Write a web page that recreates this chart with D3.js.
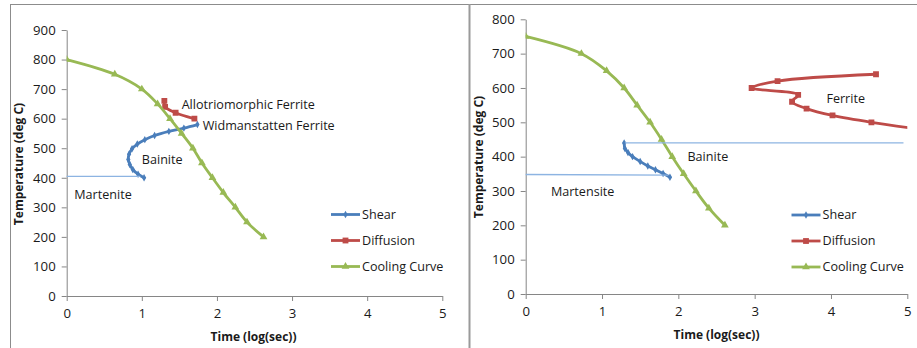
<!DOCTYPE html>
<html>
<head>
<meta charset="utf-8">
<script src="https://cdn.jsdelivr.net/npm/d3@7"></script>
<style>
  html, body { margin: 0; padding: 0; background: #fff; }
  svg { display: block; }
  text { font-family: "Open Sans", "Liberation Sans", sans-serif; fill: #1a1a1a; }
</style>
</head>
<body>
<svg id="chart" width="917" height="348"></svg>
<script>
// ---- shared axis ticks ----
const xTicks = [0, 1, 2, 3, 4, 5];
const leftYTicks = [0, 100, 200, 300, 400, 500, 600, 700, 800, 900];
const rightYTicks = [0, 100, 200, 300, 400, 500, 600, 700, 800];
const legendNames = ["Shear", "Diffusion", "Cooling Curve"];

// ---- left diagram: [log time, temperature] ----
const leftShear = [[1.03, 400], [0.95, 412], [0.88, 428], [0.84, 445], [0.82, 462], [0.83, 480],
  [0.87, 498], [0.94, 514], [1.04, 529], [1.17, 543], [1.36, 557], [1.56, 568], [1.74, 580]];
const leftDiffusion = [[1.3, 660], [1.31, 640], [1.45, 620], [1.7, 600]];
const leftCooling = [[0, 800], [0.64, 750], [1.0, 700], [1.21, 650], [1.375, 600], [1.53, 550],
  [1.68, 500], [1.8, 450], [1.94, 400], [2.085, 350], [2.245, 300], [2.4, 250], [2.62, 200]];
const leftMs = [[0, 405], [0.98, 405]];
const leftNotes = [
  { text: "Allotriomorphic Ferrite", x: 1.53, y: 646 },
  { text: "Widmanstatten Ferrite", x: 1.81, y: 575 },
  { text: "Bainite", x: 1.0, y: 463 },
  { text: "Martenite", x: 0.1, y: 343 }
];

// ---- right diagram ----
const rightShear = [[1.29, 440], [1.3, 424], [1.34, 412], [1.4, 400], [1.5, 386], [1.6, 373],
  [1.7, 362], [1.8, 351], [1.89, 340]];
const rightDiffusion = [[4.59, 640], [3.3, 620], [2.96, 600], [3.57, 580], [3.49, 560],
  [3.68, 540], [4.02, 520], [4.53, 500], [5.5, 470]];
const rightCooling = [[0, 750], [0.73, 700], [1.06, 650], [1.29, 600], [1.46, 550], [1.63, 500],
  [1.78, 450], [1.92, 400], [2.07, 350], [2.23, 300], [2.4, 250], [2.61, 200]];
const rightBs = [[1.3, 440], [4.95, 440]];
const rightMs = [[0, 348], [1.87, 346]];
const rightNotes = [
  { text: "Ferrite", x: 3.94, y: 570 },
  { text: "Bainite", x: 2.12, y: 400 },
  { text: "Martensite", x: 0.33, y: 297 }
];

const colors = { shear: "#4A7EBB", diffusion: "#BE4B48", cooling: "#98B954", thin: "#8DB4E2" };

const svg = d3.select("#chart");

// frame lines around and between the two diagrams
svg.append("line").attr("x1", 10).attr("x2", 917).attr("y1", 4.5).attr("y2", 4.5)
  .attr("stroke", "#8c8c8c").attr("stroke-width", 1);
svg.append("line").attr("x1", 10.5).attr("x2", 10.5).attr("y1", 4).attr("y2", 348)
  .attr("stroke", "#8c8c8c").attr("stroke-width", 1);
svg.append("line").attr("x1", 469.5).attr("x2", 469.5).attr("y1", 4).attr("y2", 348)
  .attr("stroke", "#9a9a9a").attr("stroke-width", 2);

function drawPanel(p) {
  const g = svg.append("g");
  const x = d3.scaleLinear().domain([0, 5]).range([p.left, p.right]);
  const y = d3.scaleLinear().domain([0, p.yMax]).range([p.bottom, p.top]);

  const clipId = "clip" + p.id;
  g.append("clipPath").attr("id", clipId).append("rect")
    .attr("x", p.left).attr("y", p.top - 10).attr("width", p.right - p.left).attr("height", p.bottom - p.top + 10);

  // axes
  const xAxis = g.append("g").attr("transform", `translate(0,${p.bottom})`)
    .call(d3.axisBottom(x).tickValues(xTicks).tickSize(5).tickSizeOuter(0).tickPadding(8).tickFormat(d3.format("d")));
  const yAxis = g.append("g").attr("transform", `translate(${p.left},0)`)
    .call(d3.axisLeft(y).tickValues(p.yTicks).tickSize(5).tickSizeOuter(0).tickPadding(6).tickFormat(d3.format("d")));
  [xAxis, yAxis].forEach(a => {
    a.select(".domain").attr("stroke", "#868686");
    a.selectAll(".tick line").attr("stroke", "#868686");
    a.selectAll(".tick text").attr("font-size", 13.2).attr("font-family", "Open Sans, sans-serif").attr("fill", "#1a1a1a");
  });

  g.append("text").attr("x", (p.left + p.right) / 2 + p.xTitleShift).attr("y", p.bottom + 45)
    .attr("text-anchor", "middle").attr("font-weight", "bold").attr("font-size", 12)
    .text("Time (log(sec))");
  g.append("text").attr("transform", `translate(${p.yTitleX},${p.yTitleY}) rotate(-90)`)
    .attr("text-anchor", "middle").attr("font-weight", "bold").attr("font-size", 12)
    .text("Temperature (deg C)");

  const line = d3.line().x(d => x(d[0])).y(d => y(d[1])).curve(d3.curveCatmullRom.alpha(0.5));
  const straight = d3.line().x(d => x(d[0])).y(d => y(d[1]));
  const plot = g.append("g").attr("clip-path", `url(#${clipId})`);

  const series = [
    { data: p.shear, color: colors.shear, marker: d3.symbolDiamond, size: 16 },
    { data: p.diffusion, color: colors.diffusion, marker: d3.symbolSquare, size: 34 },
    { data: p.cooling, color: colors.cooling, marker: d3.symbolTriangle, size: 26 }
  ];
  series.forEach(s => {
    plot.append("path").datum(s.data).attr("d", line)
      .attr("fill", "none").attr("stroke", s.color).attr("stroke-width", 2.8)
      .attr("stroke-linejoin", "round").attr("stroke-linecap", "round");
    plot.selectAll(null).data(s.data).join("path")
      .attr("transform", d => `translate(${x(d[0])},${y(d[1])})`)
      .attr("d", d3.symbol().type(s.marker).size(s.size))
      .attr("fill", s.color);
  });

  // transformation start lines
  p.thin.forEach(t => {
    g.append("path").datum(t).attr("d", straight)
      .attr("fill", "none").attr("stroke", colors.thin).attr("stroke-width", 1.3);
  });

  // region notes
  p.notes.forEach(n => {
    g.append("text").attr("x", x(n.x)).attr("y", y(n.y)).attr("dy", "0.35em")
      .attr("font-size", 12.6).text(n.text);
  });

  // legend
  const lg = g.append("g").attr("transform", `translate(${p.legendX},${p.legendY})`);
  legendNames.forEach((name, i) => {
    const s = series[i];
    const row = lg.append("g").attr("transform", `translate(0,${i * 26})`);
    row.append("line").attr("x1", 0).attr("x2", 29).attr("y1", 0).attr("y2", 0)
      .attr("stroke", s.color).attr("stroke-width", 2.8);
    row.append("path").attr("transform", "translate(14.5,0)")
      .attr("d", d3.symbol().type(s.marker).size(s.size)).attr("fill", s.color);
    row.append("text").attr("x", 31).attr("y", 0).attr("dy", "0.35em")
      .attr("font-size", 12.6).text(name);
  });
}

drawPanel({
  id: "L", left: 66.7, right: 442.3, top: 30, bottom: 296, yMax: 900, yTicks: leftYTicks,
  shear: leftShear, diffusion: leftDiffusion, cooling: leftCooling, thin: [leftMs], notes: leftNotes,
  legendX: 331, legendY: 214.5, yTitleX: 22.5, yTitleY: 164, xTitleShift: -1
});
drawPanel({
  id: "R", left: 525.7, right: 907.3, top: 19.3, bottom: 294, yMax: 800, yTicks: rightYTicks,
  shear: rightShear, diffusion: rightDiffusion, cooling: rightCooling, thin: [rightBs, rightMs], notes: rightNotes,
  legendX: 791.5, legendY: 215, yTitleX: 482.5, yTitleY: 157, xTitleShift: 0
});
</script>
</body>
</html>
